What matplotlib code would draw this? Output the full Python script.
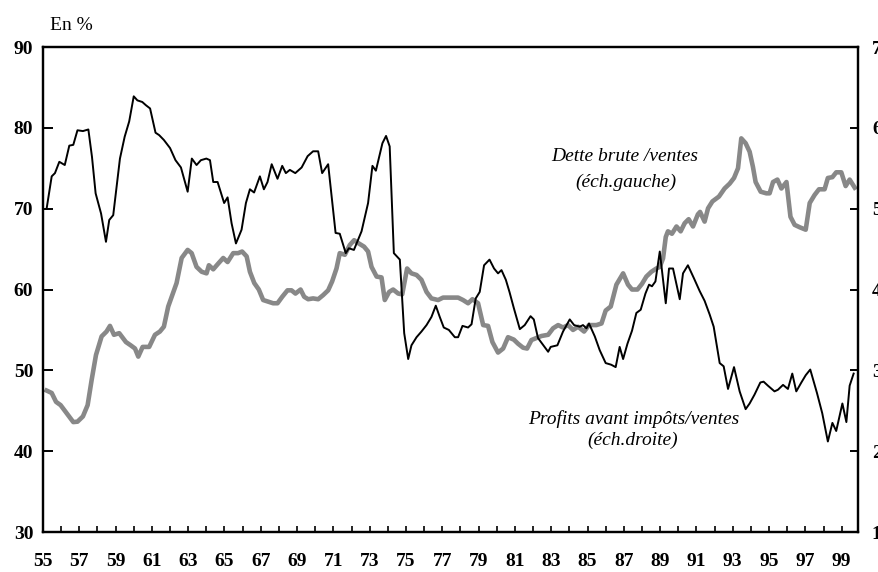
import matplotlib
matplotlib.use("Agg")
import matplotlib.pyplot as plt
import numpy as np

# dette brute / ventes (echelle gauche, en %)
debt_years = [55.2, 55.48, 55.72, 55.97, 56.3, 56.67, 56.9, 57.2, 57.46, 57.68, 57.92, 58.23, 58.5, 58.69,
              58.91, 59.2, 59.57, 59.83, 60.07, 60.25, 60.49, 60.85, 61.17, 61.44, 61.66, 61.9, 62.09, 62.36,
              62.64, 62.97, 63.19, 63.46, 63.74, 64.01, 64.14, 64.38, 64.65, 64.93, 65.17, 65.48, 65.75, 65.97,
              66.22, 66.4, 66.64, 66.89, 67.13, 67.4, 67.68, 67.92, 68.18, 68.47, 68.69, 68.91, 69.19, 69.39,
              69.61, 69.88, 70.16, 70.43, 70.71, 70.93, 71.17, 71.35, 71.63, 71.9, 72.14, 72.4, 72.69, 72.91,
              73.1, 73.38, 73.65, 73.83, 74.07, 74.29, 74.57, 74.79, 75.06, 75.3, 75.58, 75.85, 76.13, 76.4,
              76.77, 77.04, 77.41, 77.87, 78.14, 78.42, 78.66, 78.97, 79.25, 79.52, 79.76, 80.07, 80.35, 80.62,
              80.94, 81.17, 81.45, 81.67, 81.91, 82.19, 82.46, 82.83, 83.1, 83.38, 83.65, 83.93, 84.2, 84.48,
              84.81, 85.08, 85.49, 85.77, 86.0, 86.28, 86.59, 86.96, 87.23, 87.45, 87.75, 88.0, 88.24, 88.52,
              88.79, 88.98, 89.16, 89.31, 89.43, 89.65, 89.9, 90.13, 90.35, 90.57, 90.81, 91.08, 91.2, 91.45,
              91.64, 91.88, 92.24, 92.55, 92.83, 93.07, 93.29, 93.47, 93.71, 93.93, 94.11, 94.26, 94.54, 94.85,
              95.03, 95.22, 95.46, 95.68, 95.96, 96.18, 96.41, 96.69, 97.02, 97.24, 97.51, 97.75, 98.06, 98.24,
              98.49, 98.7, 98.98, 99.22, 99.44, 99.72]
debt_vals = [47.5, 47.2, 46.1, 45.7, 44.7, 43.6, 43.65, 44.3, 45.7, 48.8, 51.9, 54.2, 54.8, 55.5,
             54.4, 54.6, 53.5, 53.1, 52.7, 51.7, 52.9, 52.9, 54.4, 54.8, 55.4, 57.9, 59.1, 60.8,
             63.9, 64.9, 64.5, 62.8, 62.2, 62.0, 63.0, 62.5, 63.2, 63.9, 63.4, 64.5, 64.5, 64.7,
             64.1, 62.2, 60.8, 60.0, 58.7, 58.5, 58.3, 58.3, 59.1, 59.9, 59.9, 59.5, 60.0, 59.1,
             58.8, 58.9, 58.8, 59.3, 59.9, 61.0, 62.6, 64.5, 64.3, 65.5, 66.1, 65.7, 65.3, 64.7,
             62.8, 61.6, 61.5, 58.7, 59.7, 60.0, 59.5, 59.4, 62.6, 62.0, 61.8, 61.2, 59.7, 58.9,
             58.7, 59.0, 59.0, 59.0, 58.7, 58.3, 58.8, 58.3, 55.6, 55.5, 53.5, 52.2, 52.7, 54.1,
             53.8, 53.3, 52.8, 52.7, 53.75, 54.0, 54.25, 54.4, 55.2, 55.6, 55.3, 55.6, 55.0, 55.4,
             54.8, 55.6, 55.6, 55.8, 57.4, 57.9, 60.6, 62.0, 60.6, 60.0, 60.0, 60.7, 61.6, 62.2,
             62.6, 62.8, 63.85, 66.5, 67.2, 66.9, 67.8, 67.2, 68.2, 68.7, 67.8, 69.3, 69.6, 68.4,
             70.05, 70.9, 71.5, 72.5, 73.1, 73.8, 75.0, 78.7, 78.1, 77.05, 75.2, 73.3, 72.1, 71.9,
             71.9, 73.3, 73.6, 72.5, 73.3, 69.0, 68.0, 67.7, 67.4, 70.7, 71.7, 72.4, 72.4, 73.8,
             73.9, 74.5, 74.5, 72.8, 73.6, 72.6]

# profits avant impots / ventes (echelle droite, en %)
profit_years = [55.2, 55.48, 55.66, 55.9, 56.2, 56.45, 56.67, 56.9, 57.2, 57.5, 57.7, 57.9, 58.2, 58.47,
                58.65, 58.87, 59.24, 59.5, 59.75, 60.0, 60.2, 60.47, 60.67, 60.9, 61.2, 61.4, 61.66, 62.0,
                62.3, 62.6, 62.97, 63.2, 63.46, 63.7, 64.0, 64.2, 64.38, 64.62, 64.98, 65.17, 65.39, 65.63,
                65.94, 66.18, 66.4, 66.63, 66.95, 67.17, 67.37, 67.6, 67.92, 68.18, 68.38, 68.6, 68.9, 69.25,
                69.58, 69.88, 70.16, 70.38, 70.71, 71.12, 71.35, 71.68, 71.85, 72.13, 72.55, 72.91, 73.15,
                73.34, 73.7, 73.9, 74.1, 74.33, 74.66, 74.9, 75.12, 75.3, 75.58, 75.85, 76.13, 76.4, 76.64,
                76.86, 77.08, 77.36, 77.69, 77.87, 78.11, 78.42, 78.61, 78.84, 79.06, 79.3, 79.6, 79.85,
                80.07, 80.26, 80.5, 80.7, 80.94, 81.27, 81.54, 81.86, 82.04, 82.27, 82.83, 82.97, 83.34,
                83.65, 84.02, 84.26, 84.57, 84.75, 84.94, 85.08, 85.4, 85.67, 86.0, 86.3, 86.55, 86.77,
                86.96, 87.2, 87.45, 87.69, 87.93, 88.19, 88.39, 88.55, 88.74, 88.98, 89.16, 89.31, 89.49,
                89.71, 90.08, 90.26, 90.53, 90.86, 91.18, 91.45, 91.73, 91.95, 92.13, 92.28, 92.5, 92.74,
                93.07, 93.38, 93.71, 93.93, 94.2, 94.52, 94.7, 94.94, 95.3, 95.49, 95.77, 96.04, 96.28,
                96.5, 96.78, 97.02, 97.27, 97.64, 97.93, 98.24, 98.49, 98.7, 99.04, 99.26, 99.44, 99.66]
profit_vals = [5.00, 5.40, 5.44, 5.58, 5.54, 5.78, 5.79, 5.97, 5.96, 5.98, 5.64, 5.19, 4.94, 4.59,
               4.86, 4.92, 5.62, 5.89, 6.08, 6.39, 6.34, 6.32, 6.28, 6.24, 5.94, 5.91, 5.85, 5.75,
               5.60, 5.51, 5.21, 5.62, 5.54, 5.60, 5.62, 5.60, 5.33, 5.33, 5.07, 5.14, 4.82, 4.57,
               4.74, 5.07, 5.24, 5.20, 5.40, 5.24, 5.33, 5.55, 5.37, 5.53, 5.44, 5.48, 5.44, 5.51,
               5.65, 5.71, 5.71, 5.44, 5.55, 4.70, 4.69, 4.45, 4.51, 4.49, 4.72, 5.07, 5.53,
               5.47, 5.81, 5.90, 5.77, 4.45, 4.37, 3.46, 3.14, 3.31, 3.41, 3.48, 3.56, 3.66, 3.80,
               3.66, 3.53, 3.50, 3.41, 3.41, 3.55, 3.53, 3.57, 3.89, 3.97, 4.30, 4.37, 4.26,
               4.20, 4.24, 4.12, 3.97, 3.77, 3.51, 3.56, 3.67, 3.63, 3.40, 3.23, 3.29, 3.31,
               3.48, 3.63, 3.56, 3.54, 3.56, 3.52, 3.58, 3.42, 3.25, 3.09, 3.07, 3.04, 3.29,
               3.14, 3.33, 3.49, 3.71, 3.75, 3.95, 4.06, 4.04, 4.10, 4.47, 4.12, 3.83, 4.26,
               4.26, 3.88, 4.20, 4.30, 4.14, 3.98, 3.86, 3.69, 3.54, 3.29, 3.09, 3.05, 2.77,
               3.04, 2.74, 2.52, 2.59, 2.70, 2.85, 2.86, 2.81, 2.74, 2.76, 2.82, 2.77, 2.96,
               2.74, 2.85, 2.94, 3.01, 2.72, 2.47, 2.12, 2.35, 2.25, 2.59, 2.36, 2.81, 2.96]

year_ticks = list(range(55, 100))
year_labels = [str(y) if y % 2 == 1 else "" for y in year_ticks]
left_ticks = [30, 40, 50, 60, 70, 80, 90]
right_ticks = [1, 2, 3, 4, 5, 6, 7]

serif = ["Liberation Serif", "DejaVu Serif"]
plt.rcParams["font.family"] = serif

fig = plt.figure(figsize=(8.79, 5.72), dpi=100)
ax = fig.add_axes([0.0489, 0.0699, 0.9272, 0.8479])
ax2 = ax.twinx()

ax.plot(debt_years, debt_vals, color="#888888", lw=3.3, solid_joinstyle="round")
ax2.plot(profit_years, profit_vals, color="black", lw=1.4)

ax.set_xlim(55, 99.9)
ax.set_ylim(30, 90)
ax2.set_ylim(1, 7)

ax.set_xticks(year_ticks)
ax.set_xticklabels(year_labels)
ax.set_yticks(left_ticks)
ax2.set_yticks(right_ticks)

for a in (ax, ax2):
    for s in a.spines.values():
        s.set_linewidth(1.6)

ax.tick_params(axis="x", direction="in", length=4, width=1.2, pad=15, labelsize=14)
ax.tick_params(axis="y", direction="in", length=7, width=1.4, pad=7, labelsize=14)
ax2.tick_params(axis="y", direction="in", length=6, width=1.4, pad=10, labelsize=14)
for lab in ax.get_xticklabels() + ax.get_yticklabels() + ax2.get_yticklabels():
    lab.set_fontweight("bold")

# legendes dans le graphique
ax.text(87.05, 76.4, "Dette brute /ventes", ha="center", va="center", style="italic", fontsize=14)
ax.text(87.1, 73.3, "(éch.gauche)", ha="center", va="center", style="italic", fontsize=14)
ax.text(87.55, 44.0, "Profits avant impôts/ventes", ha="center", va="center", style="italic", fontsize=14)
ax.text(87.5, 41.3, "(éch.droite)", ha="center", va="center", style="italic", fontsize=14)

fig.text(50 / 879, 1 - 25 / 572, "En %", ha="left", va="center", fontsize=14)

fig.savefig("out.png", dpi=100)
